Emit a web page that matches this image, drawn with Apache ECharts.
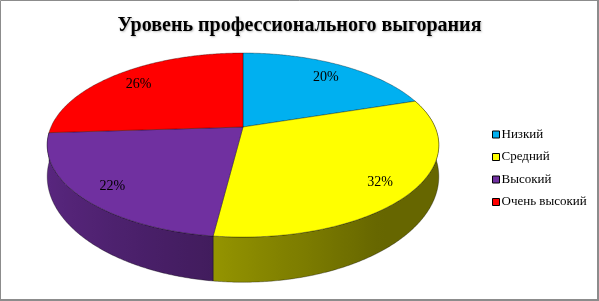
<!DOCTYPE html>
<html>
<head>
<meta charset="utf-8">
<script src="https://cdn.jsdelivr.net/npm/echarts@6/dist/echarts.min.js"></script>
<style>
html,body{margin:0;padding:0;background:#fff;}
#chart{width:599px;height:301px;}
</style>
</head>
<body>
<div id="chart"></div>
<script>
// ---- data ----
const titleText = 'Уровень профессионального выгорания';
const categories = ['Низкий', 'Средний', 'Высокий', 'Очень высокий'];
const values = [20, 32, 22, 26];
const colors = ['#00B0F0', '#FFFF00', '#7030A0', '#FF0000'];

// ---- geometry / style (not data) ----
const G = { cx: 243, cy: 127, s: 192, t: 88.5, k: 0.196, H: 29.2 };
const total = values.reduce((a, b) => a + b, 0);
const starts = [];
values.reduce((acc, v, i) => { starts[i] = acc; return acc + v; }, 0);

function proj(phi, r, z) {
  const X = r * Math.sin(phi), Y = r * Math.cos(phi);
  const d = 1 + G.k * Y;
  return [G.cx + G.s * X / d, G.cy - G.t * Y / d + z * G.H / (d * d)];
}
function hexToRgb(c) {
  const n = parseInt(c.slice(1), 16);
  return [(n >> 16) & 255, (n >> 8) & 255, n & 255];
}
function shade(color, phi) {
  let f = 0.55 - 0.25 * Math.sin(phi);
  f = Math.max(0.4, Math.min(0.85, f));
  const c = hexToRgb(color);
  return 'rgb(' + c.map(v => Math.round(v * f)).join(',') + ')';
}
const DEG = Math.PI / 180;
const visA = Math.acos(-G.k);          // right silhouette angle
const visB = 2 * Math.PI - visA;       // left silhouette angle
const extA = 60 * DEG, extB = 300 * DEG;

function arc(a, b, r, z) {
  const n = Math.max(2, Math.ceil((b - a) / (0.5 * DEG)));
  const pts = [];
  for (let i = 0; i <= n; i++) pts.push(proj(a + (b - a) * i / n, r, z));
  return pts;
}

function renderItem(params, api) {
  const start = api.value(0), val = api.value(1);
  const color = api.visual('color');
  const p0 = start / total * 2 * Math.PI;
  const p1 = (start + val) / total * 2 * Math.PI;
  const children = [];
  const edge = 'rgba(0,0,0,0.55)';

  // side wall
  const va = Math.max(p0, visA), vb = Math.min(p1, visB);
  if (va < vb) {
    const a = Math.max(p0, extA), b = Math.min(p1, extB);
    const top = arc(a, b, 1, 0);
    const bot = arc(a, b, 1, 1).reverse();
    const samples = [];
    const n = 24;
    for (let i = 0; i <= n; i++) {
      const ph = vb - (vb - va) * i / n;
      samples.push({ x: proj(ph, 1, 0)[0], c: shade(color, ph) });
    }
    const xmin = samples[0].x, xmax = samples[samples.length - 1].x;
    const stops = samples.map(s => ({ offset: Math.max(0, Math.min(1, (s.x - xmin) / (xmax - xmin || 1))), color: s.c }));
    const mid = (a + b) / 2;
    children.push({
      type: 'polygon',
      shape: { points: top.concat(bot) },
      style: {
        fill: new echarts.graphic.LinearGradient(xmin, 0, xmax, 0, stops, true),
        stroke: edge, lineWidth: 0.6
      },
      z2: Math.round(100 - 50 * Math.cos(mid))
    });
  }

  // top face
  children.push({
    type: 'polygon',
    shape: { points: [proj(0, 0, 0)].concat(arc(p0, p1, 1, 0)) },
    style: { fill: color, stroke: edge, lineWidth: 0.6 },
    z2: 300
  });

  // label
  const midA = (p0 + p1) / 2;
  const lp = proj(midA, 0.83, 0);
  children.push({
    type: 'text',
    x: lp[0], y: lp[1] + 3,
    style: {
      text: Math.round(val / total * 100) + '%',
      font: '14px "Liberation Serif"',
      fill: '#000', align: 'center', verticalAlign: 'middle'
    },
    z2: 500
  });

  return { type: 'group', children };
}

const chart = echarts.init(document.getElementById('chart'), null, { renderer: 'canvas' });
chart.setOption({
  backgroundColor: '#fff',
  animation: false,
  title: {
    text: titleText,
    left: 'center',
    top: 11,
    textStyle: {
      fontFamily: 'Liberation Serif', fontWeight: 'bold', fontSize: 20, color: '#000',
      textShadowColor: 'rgba(0,0,0,0.25)', textShadowBlur: 2, textShadowOffsetX: 1, textShadowOffsetY: 1
    }
  },
  legend: {
    data: categories,
    orient: 'vertical',
    left: 492,
    top: 128,
    icon: 'rect',
    itemWidth: 7,
    itemHeight: 7,
    itemGap: 9.5,
    padding: 0,
    itemStyle: { borderColor: '#000', borderWidth: 1 },
    textStyle: { fontFamily: 'Liberation Serif', fontSize: 13, color: '#000', padding: [0, 0, 0, -3] }
  },
  graphic: [
    { type: 'polyline', shape: { points: [[0.5, 300], [0.5, 0.5], [598, 0.5]] }, style: { stroke: '#8c8c8c', lineWidth: 1, fill: null }, silent: true },
    { type: 'polyline', shape: { points: [[0, 300], [598, 300], [598, 0]] }, style: { stroke: '#8c8c8c', lineWidth: 2, fill: null }, silent: true }
  ],
  series: categories.map((name, i) => ({
    type: 'custom',
    name: name,
    coordinateSystem: 'none',
    silent: true,
    itemStyle: { color: colors[i] },
    data: [[starts[i], values[i]]],
    renderItem: renderItem
  }))
});
</script>
</body>
</html>
